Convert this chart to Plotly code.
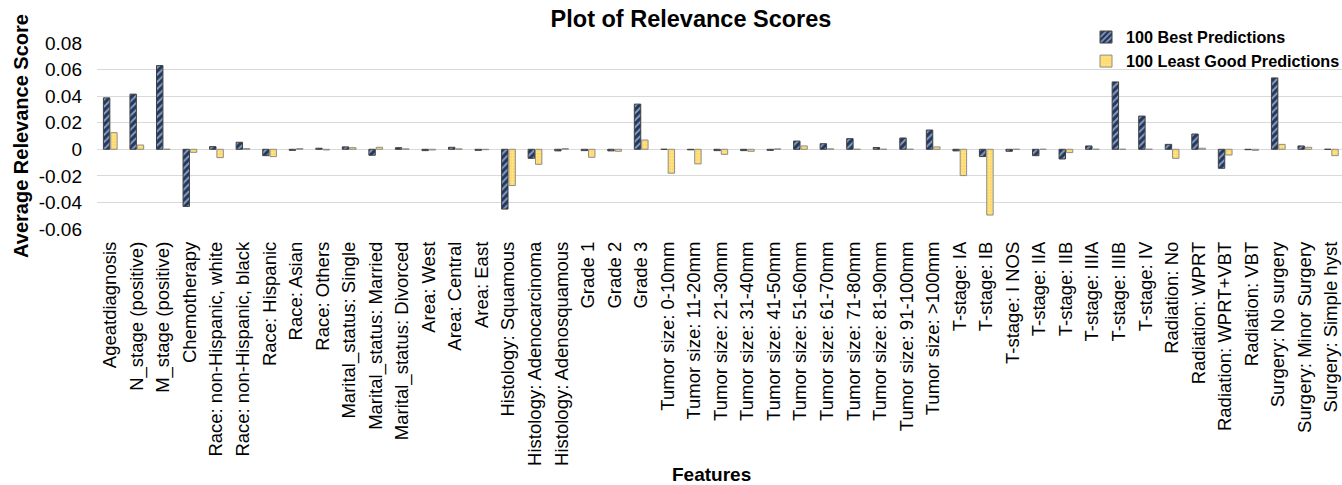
import plotly.graph_objects as go

features = [
    "Ageatdiagnosis", "N_stage (positive)", "M_stage (positive)", "Chemotherapy",
    "Race: non-Hispanic, white", "Race: non-Hispanic, black", "Race: Hispanic",
    "Race: Asian", "Race: Others", "Marital_status: Single", "Marital_status: Married",
    "Marital_status: Divorced", "Area: West", "Area: Central", "Area: East",
    "Histology: Squamous", "Histology: Adenocarcinoma", "Histology: Adenosquamous",
    "Grade 1", "Grade 2", "Grade 3",
    "Tumor size: 0-10mm", "Tumor size: 11-20mm", "Tumor size: 21-30mm",
    "Tumor size: 31-40mm", "Tumor size: 41-50mm", "Tumor size: 51-60mm",
    "Tumor size: 61-70mm", "Tumor size: 71-80mm", "Tumor size: 81-90mm",
    "Tumor size: 91-100mm", "Tumor size: >100mm",
    "T-stage: IA", "T-stage: IB", "T-stage: I NOS", "T-stage: IIA", "T-stage: IIB",
    "T-stage: IIIA", "T-stage: IIIB", "T-stage: IV",
    "Radiation: No", "Radiation: WPRT", "Radiation: WPRT+VBT", "Radiation: VBT",
    "Surgery: No surgery", "Surgery: Minor Surgery", "Surgery: Simple hyst",
]

best = [
    0.0387, 0.0415, 0.0630, -0.0430,
    0.0020, 0.0053, -0.0048,
    -0.0008, 0.0008, 0.0018, -0.0045,
    0.0012, -0.0010, 0.0015, -0.0008,
    -0.0450, -0.0068, -0.0012,
    -0.0010, -0.0012, 0.0340,
    0.0000, -0.0004, -0.0010,
    -0.0010, -0.0008, 0.0062,
    0.0042, 0.0080, 0.0013,
    0.0085, 0.0145,
    -0.0012, -0.0055, -0.0015, -0.0048, -0.0073,
    0.0025, 0.0507, 0.0250,
    0.0037, 0.0115, -0.0143, -0.0003,
    0.0537, 0.0025, 0.0000,
]

least = [
    0.0125, 0.0032, 0.0000, -0.0023,
    -0.0063, 0.0005, -0.0055,
    0.0005, -0.0005, 0.0012, 0.0015,
    0.0003, -0.0005, 0.0003, -0.0003,
    -0.0273, -0.0113, 0.0005,
    -0.0060, -0.0015, 0.0070,
    -0.0180, -0.0110, -0.0038,
    -0.0015, 0.0003, 0.0025,
    0.0003, 0.0000, 0.0000,
    0.0000, 0.0018,
    -0.0198, -0.0495, 0.0000, 0.0000, -0.0025,
    0.0000, 0.0000, 0.0000,
    -0.0068, 0.0008, -0.0043, -0.0008,
    0.0037, 0.0015, -0.0048,
]

y_ticks = [0.08, 0.06, 0.04, 0.02, 0, -0.02, -0.04, -0.06]
y_tick_labels = ["0.08", "0.06", "0.04", "0.02", "0", "-0.02", "-0.04", "-0.06"]

idx = list(range(len(features)))

W, H = 1342, 485
L, R, T, B = 97, 0, 43, 256
PW, PH = W - L - R, H - T - B

fig = go.Figure()
fig.add_trace(go.Bar(
    x=idx, y=best, name="100 Best Predictions",
    marker=dict(
        color="#1F3864",
        line=dict(color="#404040", width=1),
        pattern=dict(shape="/", fgcolor="#FFFFFF", bgcolor="#1F3864", size=5, solidity=0.4),
    ),
))
fig.add_trace(go.Bar(
    x=idx, y=least, name="100 Least Good Predictions",
    marker=dict(
        color="#FFD966",
        line=dict(color="#8C8C8C", width=1),
        pattern=dict(shape=".", fgcolor="#FFF4CC", bgcolor="#FFD966", size=3, solidity=0.4),
    ),
))

fig.update_layout(
    width=W, height=H,
    paper_bgcolor="white", plot_bgcolor="white",
    margin=dict(l=L, r=R, t=T, b=B, autoexpand=False),
    barmode="group", bargap=0.45, bargroupgap=0.12,
    font=dict(family="Liberation Sans, Arial, sans-serif", color="#000000"),
    title=dict(
        text="<b>Plot of Relevance Scores</b>",
        x=691 / W, xanchor="center", xref="container",
        y=1 - 19 / H, yanchor="middle", yref="container",
        font=dict(size=23.5, color="#000000"),
    ),
    legend=dict(
        x=1086 / W, xanchor="left", xref="container",
        y=1 - 20 / H, yanchor="top", yref="container",
        bgcolor="rgba(255,255,255,0)",
        font=dict(size=16.2, color="#000000", weight="bold"),
        itemwidth=30, tracegroupgap=0,
        traceorder="normal",
    ),
    showlegend=True,
    annotations=[
        dict(
            text="<b>Features</b>",
            x=(711 - L) / PW, y=(H - B - 475) / PH,
            xref="paper", yref="paper", showarrow=False,
            xanchor="center", yanchor="middle",
            font=dict(size=19, color="#000000"),
        )
    ],
)

fig.update_xaxes(
    tickmode="array", tickvals=idx, ticktext=features,
    range=[-0.5, 46.4],
    tickangle=-90,
    tickfont=dict(size=18.5, color="#000000"),
    showgrid=False, zeroline=False, showline=False, ticks="",
    ticklabelstandoff=8, ticklabeloverflow="allow",
    automargin=False,
)
fig.update_yaxes(
    range=[-0.06, 0.08],
    tickmode="array", tickvals=y_ticks, ticktext=y_tick_labels,
    tickfont=dict(size=19, color="#000000"),
    showgrid=True, gridcolor="#D9D9D9", gridwidth=1,
    zeroline=True, zerolinecolor="#D9D9D9", zerolinewidth=1,
    showline=False, ticks="", ticklabelstandoff=14,
    title=dict(text="<b>Average Relevance Score</b>", font=dict(size=20, color="#000000"), standoff=4),
    automargin=False,
)

fig.write_html(
    "out.html",
    config={"displayModeBar": False},
    post_script="document.body.style.margin='0px';document.body.style.overflow='hidden';",
)
